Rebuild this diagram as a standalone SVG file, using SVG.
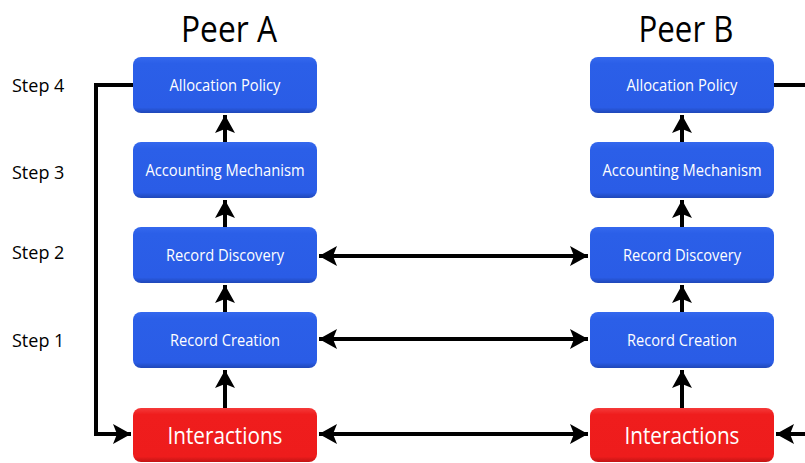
<svg xmlns="http://www.w3.org/2000/svg" width="805" height="463" viewBox="0 0 805 463">
  <defs>
    <linearGradient id="blueFill" x1="0" y1="0" x2="0" y2="1">
      <stop offset="0" stop-color="#3468ee"/>
      <stop offset="0.12" stop-color="#2b5fe8"/>
      <stop offset="0.9" stop-color="#2a5ce6"/>
      <stop offset="1" stop-color="#1f47b8"/>
    </linearGradient>
    <linearGradient id="redFill" x1="0" y1="0" x2="0" y2="1">
      <stop offset="0" stop-color="#f53a3a"/>
      <stop offset="0.12" stop-color="#ef1d1d"/>
      <stop offset="0.9" stop-color="#ee1c1c"/>
      <stop offset="1" stop-color="#c21414"/>
    </linearGradient>
    <marker id="head" markerUnits="userSpaceOnUse" markerWidth="20" markerHeight="20" refX="18" refY="10" orient="auto-start-reverse" viewBox="0 0 20 20">
      <path d="M0,0 L18,10 L0,20 L4,10 Z" fill="#000"/>
    </marker>
  </defs>
  <style>
    .lbl { font-family: "Open Sans", "Noto Sans", "DejaVu Sans", sans-serif; fill: #fff; text-anchor: middle; }
    .node { font-size: 16.8px; }
    .big { font-size: 24px; }
    .step { font-family: "Open Sans", "Noto Sans", "DejaVu Sans", sans-serif; font-size: 18px; fill: #000; }
    .peer { font-family: "Open Sans", "Noto Sans", "DejaVu Sans", sans-serif; font-size: 37px; fill: #000; text-anchor: middle; }
    .wire { fill: none; stroke: #000; stroke-width: 4; }
  </style>

  <!-- headings (narrow set) -->
  <text class="peer" x="229" y="42" textLength="96" lengthAdjust="spacingAndGlyphs">Peer A</text>
  <text class="peer" x="686" y="42" textLength="95" lengthAdjust="spacingAndGlyphs">Peer B</text>

  <!-- step labels -->
  <text class="step" x="12" y="92">Step 4</text>
  <text class="step" x="12" y="179">Step 3</text>
  <text class="step" x="12" y="259">Step 2</text>
  <text class="step" x="12" y="347">Step 1</text>

  <!-- connectors -->
  <g id="connectors">
    <!-- feedback loop, peer A -->
    <path class="wire" d="M133,85 H96 V434 H131" marker-end="url(#head)"/>
    <!-- feedback loop, peer B (runs past the right edge) -->
    <path class="wire" d="M774,85 H810"/>
    <path class="wire" d="M810,434 H776" marker-end="url(#head)"/>
    <!-- vertical steps, peer A -->
    <path class="wire" d="M225,142 V115" marker-end="url(#head)"/>
    <path class="wire" d="M225,227 V200" marker-end="url(#head)"/>
    <path class="wire" d="M225,312 V285" marker-end="url(#head)"/>
    <path class="wire" d="M225,408 V370" marker-end="url(#head)"/>
    <!-- vertical steps, peer B -->
    <path class="wire" d="M682,142 V115" marker-end="url(#head)"/>
    <path class="wire" d="M682,227 V200" marker-end="url(#head)"/>
    <path class="wire" d="M682,312 V285" marker-end="url(#head)"/>
    <path class="wire" d="M682,408 V370" marker-end="url(#head)"/>
    <!-- exchanges between peers -->
    <path class="wire" d="M319,256 H588" marker-start="url(#head)" marker-end="url(#head)"/>
    <path class="wire" d="M319,339 H588" marker-start="url(#head)" marker-end="url(#head)"/>
    <path class="wire" d="M319,434 H588" marker-start="url(#head)" marker-end="url(#head)"/>
  </g>

  <!-- peer A nodes -->
  <g id="a-allocation">
    <rect x="133" y="57" width="184" height="56" rx="8" fill="url(#blueFill)"/>
    <text class="lbl node" x="225" y="90.5" textLength="111" lengthAdjust="spacingAndGlyphs">Allocation Policy</text>
  </g>
  <g id="a-accounting">
    <rect x="133" y="142" width="184" height="56" rx="8" fill="url(#blueFill)"/>
    <text class="lbl node" x="225" y="175.5" textLength="159" lengthAdjust="spacingAndGlyphs">Accounting Mechanism</text>
  </g>
  <g id="a-discovery">
    <rect x="133" y="227" width="184" height="56" rx="8" fill="url(#blueFill)"/>
    <text class="lbl node" x="225" y="260.5" textLength="118" lengthAdjust="spacingAndGlyphs">Record Discovery</text>
  </g>
  <g id="a-creation">
    <rect x="133" y="312" width="184" height="56" rx="8" fill="url(#blueFill)"/>
    <text class="lbl node" x="225" y="345.5" textLength="110" lengthAdjust="spacingAndGlyphs">Record Creation</text>
  </g>
  <g id="a-interactions">
    <rect x="133" y="408" width="184" height="54" rx="8" fill="url(#redFill)"/>
    <text class="lbl big" x="225" y="444" textLength="115" lengthAdjust="spacingAndGlyphs">Interactions</text>
  </g>

  <!-- peer B nodes -->
  <g id="b-allocation">
    <rect x="590" y="57" width="184" height="56" rx="8" fill="url(#blueFill)"/>
    <text class="lbl node" x="682" y="90.5" textLength="111" lengthAdjust="spacingAndGlyphs">Allocation Policy</text>
  </g>
  <g id="b-accounting">
    <rect x="590" y="142" width="184" height="56" rx="8" fill="url(#blueFill)"/>
    <text class="lbl node" x="682" y="175.5" textLength="159" lengthAdjust="spacingAndGlyphs">Accounting Mechanism</text>
  </g>
  <g id="b-discovery">
    <rect x="590" y="227" width="184" height="56" rx="8" fill="url(#blueFill)"/>
    <text class="lbl node" x="682" y="260.5" textLength="118" lengthAdjust="spacingAndGlyphs">Record Discovery</text>
  </g>
  <g id="b-creation">
    <rect x="590" y="312" width="184" height="56" rx="8" fill="url(#blueFill)"/>
    <text class="lbl node" x="682" y="345.5" textLength="110" lengthAdjust="spacingAndGlyphs">Record Creation</text>
  </g>
  <g id="b-interactions">
    <rect x="590" y="408" width="184" height="54" rx="8" fill="url(#redFill)"/>
    <text class="lbl big" x="682" y="444" textLength="115" lengthAdjust="spacingAndGlyphs">Interactions</text>
  </g>
</svg>
